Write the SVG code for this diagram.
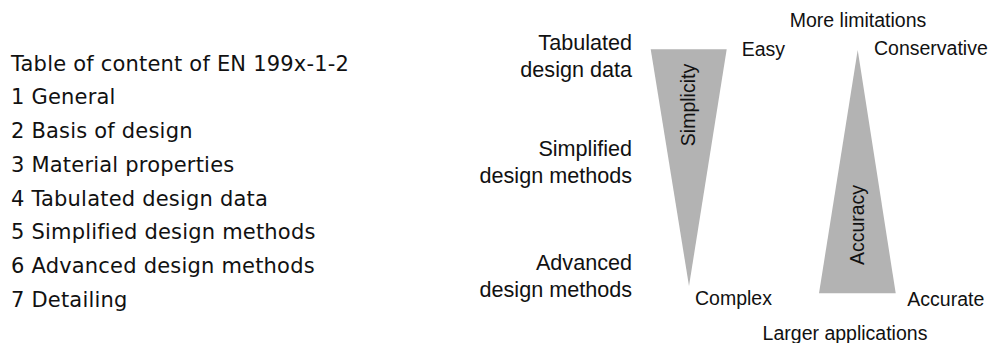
<svg xmlns="http://www.w3.org/2000/svg" width="990" height="343" viewBox="0 0 990 343">
<style>
.toc{font-family:"DejaVu Sans",Verdana,sans-serif;font-size:21px;fill:#111;letter-spacing:0.2px}
.lbl{font-family:"Liberation Sans",Arial,sans-serif;font-size:21.6px;fill:#111;text-anchor:end}
.sm{font-family:"Liberation Sans",Arial,sans-serif;font-size:19.5px;fill:#111}
.tri{fill:#b3b3b3;stroke:none}
</style>
<rect width="990" height="343" fill="#fff"/>
<g id="toc">
<text class="toc" x="11" y="70.7">Table of content of EN 199x-1-2</text>
<text class="toc" x="11" y="104.4">1 General</text>
<text class="toc" x="11" y="138.1">2 Basis of design</text>
<text class="toc" x="11" y="171.8">3 Material properties</text>
<text class="toc" x="11" y="205.5">4 Tabulated design data</text>
<text class="toc" x="11" y="239.2">5 Simplified design methods</text>
<text class="toc" x="11" y="272.9">6 Advanced design methods</text>
<text class="toc" x="11" y="306.6">7 Detailing</text>
</g>
<g id="levels">
<text class="lbl" x="632" y="49.5">Tabulated</text>
<text class="lbl" x="632" y="77">design data</text>
<text class="lbl" x="632" y="156">Simplified</text>
<text class="lbl" x="632" y="183.3">design methods</text>
<text class="lbl" x="632" y="270">Advanced</text>
<text class="lbl" x="632" y="297">design methods</text>
</g>
<g id="simplicity">
<polygon class="tri" points="650.7,49.3 726.7,49.3 689,286"/>
<text class="sm" transform="translate(694.5,105) rotate(-90)" text-anchor="middle">Simplicity</text>
<text class="sm" x="741.7" y="56">Easy</text>
<text class="sm" x="695" y="305">Complex</text>
</g>
<g id="accuracy">
<polygon class="tri" points="857.7,50 895.7,293.3 819,293.3"/>
<text class="sm" transform="translate(864,225) rotate(-90)" text-anchor="middle">Accuracy</text>
<text class="sm" x="874" y="55">Conservative</text>
<text class="sm" x="907.3" y="306">Accurate</text>
<text class="sm" x="858" y="26.7" text-anchor="middle">More limitations</text>
<text class="sm" x="845" y="340" text-anchor="middle">Larger applications</text>
</g>
<g id="connectors"/>
</svg>
